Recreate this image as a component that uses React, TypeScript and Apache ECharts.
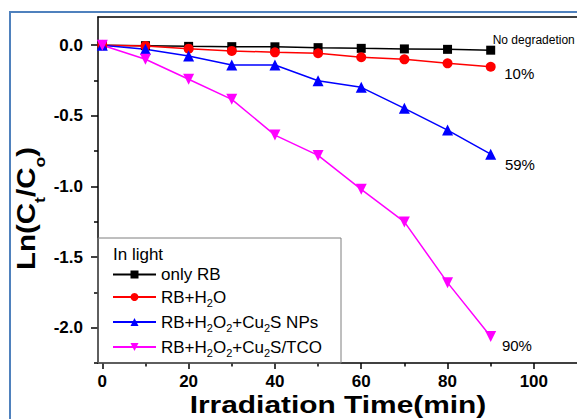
import React, { useEffect, useRef } from 'react';
import * as echarts from 'echarts';

const times = [0, 10, 20, 30, 40, 50, 60, 70, 80, 90];
const onlyRB = [0, -0.003, -0.008, -0.01, -0.011, -0.017, -0.022, -0.026, -0.029, -0.035];
const rbH2O = [0, -0.005, -0.024, -0.04, -0.05, -0.057, -0.085, -0.1, -0.128, -0.152];
const rbH2O2Cu2S = [0, -0.028, -0.076, -0.14, -0.14, -0.251, -0.298, -0.447, -0.601, -0.771];
const rbH2O2Cu2STCO = [0, -0.099, -0.241, -0.383, -0.636, -0.78, -1.02, -1.251, -1.681, -2.062];

const seriesNames = ['only RB', 'RB+H2O', 'RB+H2O2+Cu2S NPs', 'RB+H2O2+Cu2S/TCO'];
const legendRich = [
  '{n|only RB}',
  '{n|RB+H}{s|2}{n|O}',
  '{n|RB+H}{s|2}{n|O}{s|2}{n|+Cu}{s|2}{n|S NPs}',
  '{n|RB+H}{s|2}{n|O}{s|2}{n|+Cu}{s|2}{n|S/TCO}',
];
const endLabels = ['No degradetion', '10%', '59%', '90%'];
const xLabelValues = [0, 20, 40, 60, 80, 100];
const xMinorValues = [10, 30, 50, 70, 90];
const yLabelValues = [0, -0.5, -1, -1.5, -2];
const yMinorValues = [-0.25, -0.75, -1.25, -1.75, -2.25];

const FONT = '"Liberation Sans", Arial, Helvetica, sans-serif';

export default function App() {
  const ref = useRef<HTMLDivElement>(null);
  useEffect(() => {
    if (!ref.current) return;
    const chart = echarts.init(ref.current, null, { renderer: 'svg' });

    const colors = ['#000000', '#ff0000', '#0000ff', '#ff00ff'];
    const symbols = ['rect', 'circle', 'triangle', 'triangle'];
    const sizes = [9, 10, 11, 11];
    const rotates = [0, 0, 0, 180];
    const values = [onlyRB, rbH2O, rbH2O2Cu2S, rbH2O2Cu2STCO];
    const labelStyles = [
      { fontSize: 12, offset: [-7.5, -9.7] },
      { fontSize: 15, offset: [3.5, 6.3] },
      { fontSize: 15, offset: [3.7, 10] },
      { fontSize: 15, offset: [0.7, 9] },
    ];

    const series = seriesNames.map((name, si) => ({
      name,
      type: 'line',
      xAxisIndex: 0,
      yAxisIndex: 0,
      symbol: symbols[si],
      symbolSize: sizes[si],
      symbolRotate: rotates[si],
      showAllSymbol: true,
      lineStyle: { color: colors[si], width: 1.5 },
      itemStyle: { color: colors[si] },
      label: { show: false },
      emphasis: { disabled: true },
      data: times.map((t, i) =>
        i === times.length - 1
          ? {
              value: [t, values[si][i]],
              label: {
                show: true,
                position: 'right',
                formatter: endLabels[si],
                color: '#000',
                fontFamily: FONT,
                fontSize: labelStyles[si].fontSize,
                offset: labelStyles[si].offset,
              },
            }
          : [t, values[si][i]]
      ),
    }));

    const axisLineStyle = { color: '#000', width: 1.5 };

    chart.setOption({
      animation: false,
      grid: { left: 98, top: 17, bottom: 56, right: -4, containLabel: false },
      xAxis: [
        {
          type: 'value', min: -1, max: 110, position: 'bottom',
          axisLine: { show: true, onZero: false, lineStyle: axisLineStyle },
          axisTick: { show: true, customValues: xLabelValues, length: 6, lineStyle: axisLineStyle },
          axisLabel: { customValues: xLabelValues, fontSize: 17, fontWeight: 'bold', color: '#000', fontFamily: FONT, margin: 10 },
          splitLine: { show: false },
        },
        {
          type: 'value', min: -1, max: 110, position: 'bottom',
          axisLine: { show: false, onZero: false },
          axisTick: { show: true, customValues: xMinorValues, length: 3.5, lineStyle: axisLineStyle },
          axisLabel: { show: false },
          splitLine: { show: false },
        },
        {
          type: 'value', min: -1, max: 110, position: 'top',
          axisLine: { show: true, onZero: false, lineStyle: axisLineStyle },
          axisTick: { show: false },
          axisLabel: { show: false },
          splitLine: { show: false },
        },
      ],
      yAxis: [
        {
          type: 'value', min: -2.25, max: 0.2, position: 'left',
          axisLine: { show: true, onZero: false, lineStyle: axisLineStyle },
          axisTick: { show: true, customValues: yLabelValues, length: 7, lineStyle: axisLineStyle },
          axisLabel: {
            customValues: yLabelValues,
            formatter: (v: number) => v.toFixed(1),
            fontSize: 17, fontWeight: 'bold', color: '#000', fontFamily: FONT, margin: 15,
          },
          splitLine: { show: false },
        },
        {
          type: 'value', min: -2.25, max: 0.2, position: 'left',
          axisLine: { show: false, onZero: false },
          axisTick: { show: true, customValues: yMinorValues, length: 4, lineStyle: axisLineStyle },
          axisLabel: { show: false },
          splitLine: { show: false },
        },
      ],
      legend: {
        orient: 'vertical',
        left: 112,
        top: 266,
        padding: 0,
        itemGap: 5.5,
        itemWidth: 43,
        itemHeight: 10,
        selectedMode: false,
        data: seriesNames,
        formatter: (name: string) => legendRich[seriesNames.indexOf(name)],
        textStyle: {
          color: '#000',
          fontFamily: FONT,
          fontSize: 17,
          rich: {
            n: { fontSize: 17, lineHeight: 22, fontFamily: FONT, color: '#000' },
            s: { fontSize: 11, lineHeight: 4, verticalAlign: 'bottom', fontFamily: FONT, color: '#000' },
          },
        },
      },
      graphic: [
        {
          type: 'rect', z: 0, silent: true,
          shape: { x: 10, y: 12, width: 640, height: 520 },
          style: { fill: 'none', stroke: '#4f81bd', lineWidth: 2 },
        },
        {
          type: 'rect', z: 1, silent: true,
          shape: { x: 98, y: 238, width: 243, height: 125 },
          style: { fill: 'none', stroke: '#7f7f7f', lineWidth: 1 },
        },
        {
          type: 'text', silent: true, x: 113, y: 254,
          style: { text: 'In light', fontSize: 17, fontFamily: FONT, fill: '#000', textVerticalAlign: 'middle', textAlign: 'left' },
        },
        {
          type: 'text', silent: true, x: 338, y: 405, scaleX: 1.3,
          style: {
            text: 'Irradiation Time(min)', fontSize: 23, fontWeight: 'bold', fontFamily: FONT, fill: '#000',
            textAlign: 'center', textVerticalAlign: 'middle',
          },
        },
        {
          type: 'text', silent: true, x: 26, y: 208.5, rotation: Math.PI / 2, scaleX: 1.18,
          style: {
            text: '{m|Ln(C}{s|t}{m|/C}{s|o}{m|)}',
            fontSize: 25, fontWeight: 'bold', fontFamily: FONT, fill: '#000',
            textAlign: 'center', textVerticalAlign: 'middle',
            rich: {
              m: { fontSize: 25, fontWeight: 'bold', fontFamily: FONT, lineHeight: 42, fill: '#000' },
              s: { fontSize: 15, fontWeight: 'bold', fontFamily: FONT, lineHeight: 2, verticalAlign: 'bottom', fill: '#000' },
            },
          },
        },
      ],
      series,
    });

    return () => chart.dispose();
  }, []);

  return (
    <div
      ref={ref}
      style={{ position: 'absolute', left: 0, top: 0, width: 577, height: 419, background: '#fff' }}
    />
  );
}
